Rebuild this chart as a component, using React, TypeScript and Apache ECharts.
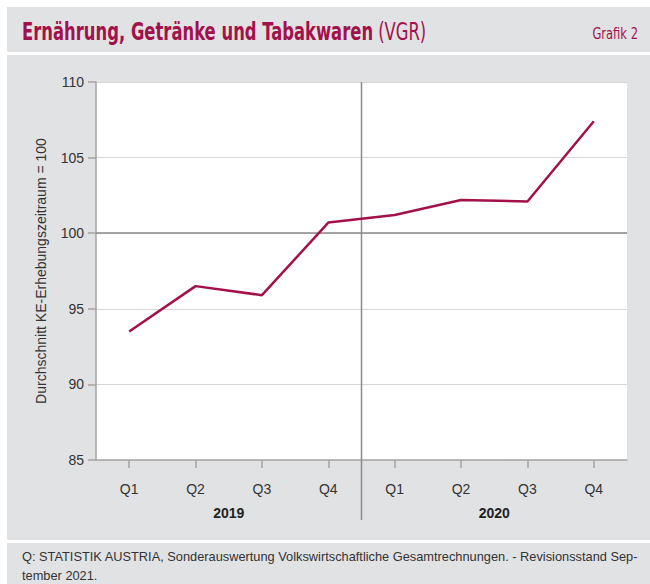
import React, { useEffect, useRef } from 'react';
import * as echarts from 'echarts';

const quarters = ['Q1', 'Q2', 'Q3', 'Q4', 'Q1', 'Q2', 'Q3', 'Q4'];
const years = ['2019', '2020'];
const values = [93.5, 96.5, 95.9, 100.7, 101.2, 102.2, 102.1, 107.4];
const yMin = 85;
const yMax = 110;
const yStep = 5;
const baseLine = 100;

const titleMain = 'Ernährung, Getränke und Tabakwaren';
const titleSub = '(VGR)';
const grafik = 'Grafik 2';
const yName = 'Durchschnitt KE-Erhebungszeitraum = 100';
const footer1 = 'Q: STATISTIK AUSTRIA, Sonderauswertung Volkswirtschaftliche Gesamtrechnungen. - Revisionsstand Sep-';
const footer2 = 'tember 2021.';

const CRIMSON = '#a3114a';
const PANEL = '#e1e2e4';
const FONT = 'Liberation Sans, Arial, sans-serif';
const COND = 'DejaVu Sans Condensed, DejaVu Sans, sans-serif';

export default function App() {
  const ref = useRef<HTMLDivElement>(null);
  useEffect(() => {
    const chart = echarts.init(ref.current!, null, { renderer: 'svg' });
    const option: any = {
      animation: false,
      backgroundColor: '#ffffff',
      grid: {
        left: 96,
        top: 82,
        width: 531,
        height: 378,
        show: true,
        backgroundColor: '#ffffff',
        borderWidth: 0,
        z: 0,
      },
      xAxis: [
        {
          type: 'category',
          data: quarters,
          boundaryGap: true,
          position: 'bottom',
          axisLine: { show: true, lineStyle: { color: '#a3a3a3', width: 1.5 } },
          axisTick: { show: true, alignWithLabel: true, length: 8, lineStyle: { color: '#a3a3a3', width: 1.5 } },
          axisLabel: { margin: 22, fontSize: 14, color: '#333333', fontFamily: FONT },
          splitLine: { show: false },
        },
        {
          type: 'category',
          data: years,
          boundaryGap: true,
          position: 'bottom',
          offset: 0,
          axisLine: { show: false },
          axisTick: { show: false },
          axisLabel: { margin: 46, fontSize: 14, fontWeight: 'bold', color: '#222222', fontFamily: FONT },
          splitLine: { show: false },
        },
      ],
      yAxis: {
        type: 'value',
        min: yMin,
        max: yMax,
        interval: yStep,
        name: yName,
        nameLocation: 'middle',
        nameGap: 48,
        nameRotate: 90,
        nameTextStyle: { fontSize: 14, color: '#333333', fontFamily: FONT },
        axisLine: { show: true, lineStyle: { color: '#a3a3a3', width: 1.5 } },
        axisTick: { show: true, length: 8, lineStyle: { color: '#a3a3a3', width: 1.5 } },
        axisLabel: { margin: 12, fontSize: 14, color: '#333333', fontFamily: FONT },
        splitLine: { show: true, lineStyle: { color: '#d6d6d6', width: 1 } },
      },
      series: [
        {
          type: 'line',
          data: values,
          xAxisIndex: 0,
          yAxisIndex: 0,
          showSymbol: false,
          symbol: 'none',
          lineStyle: { color: CRIMSON, width: 2.5 },
          itemStyle: { color: CRIMSON },
          z: 5,
          markLine: {
            silent: true,
            symbol: 'none',
            label: { show: false },
            lineStyle: { color: '#8a8a8a', width: 1.5, type: 'solid' },
            data: [{ yAxis: baseLine }],
            z: 3,
          },
        },
      ],
    };
    chart.setOption(option);

    const xa = chart.convertToPixel({ xAxisIndex: 0 }, 3) as number;
    const xb = chart.convertToPixel({ xAxisIndex: 0 }, 4) as number;
    const yTop = chart.convertToPixel({ yAxisIndex: 0 }, yMax) as number;
    const sepX = (xa + xb) / 2;

    chart.setOption({
      graphic: [
        { type: 'rect', z: -10, shape: { x: 7, y: 7, width: 643, height: 45 }, style: { fill: PANEL } },
        { type: 'rect', z: -10, shape: { x: 7, y: 55, width: 643, height: 485 }, style: { fill: PANEL } },
        { type: 'rect', z: -10, shape: { x: 7, y: 543, width: 643, height: 41 }, style: { fill: PANEL } },
        {
          type: 'text',
          x: 22,
          y: 31,
          scaleX: 0.73,
          style: {
            text: '{b|' + titleMain + '}  {n|' + titleSub + '}',
            textVerticalAlign: 'middle',
            rich: {
              b: { fontSize: 25, fontWeight: 'bold', fill: CRIMSON, fontFamily: COND },
              n: { fontSize: 25, fontWeight: 'normal', fill: CRIMSON, fontFamily: COND },
            },
          },
        },
        {
          type: 'text',
          x: 638,
          y: 33,
          scaleX: 0.8,
          style: {
            text: grafik,
            textAlign: 'right',
            textVerticalAlign: 'middle',
            fontSize: 16,
            fill: CRIMSON,
            fontFamily: COND,
          },
        },
        {
          type: 'text',
          x: 22,
          y: 556,
          style: { text: footer1, textVerticalAlign: 'middle', fontSize: 12.8, fill: '#333333', fontFamily: FONT },
        },
        {
          type: 'text',
          x: 22,
          y: 575,
          style: { text: footer2, textVerticalAlign: 'middle', fontSize: 12.8, fill: '#333333', fontFamily: FONT },
        },
        {
          type: 'line',
          z: 1,
          shape: { x1: sepX, y1: yTop, x2: sepX, y2: 520 },
          style: { stroke: '#8a8a8a', lineWidth: 1.5 },
        },
      ],
    });
    return () => chart.dispose();
  }, []);
  return (
    <div
      ref={ref}
      style={{ position: 'fixed', left: 0, top: 0, width: 650, height: 584, background: '#ffffff' }}
    />
  );
}
